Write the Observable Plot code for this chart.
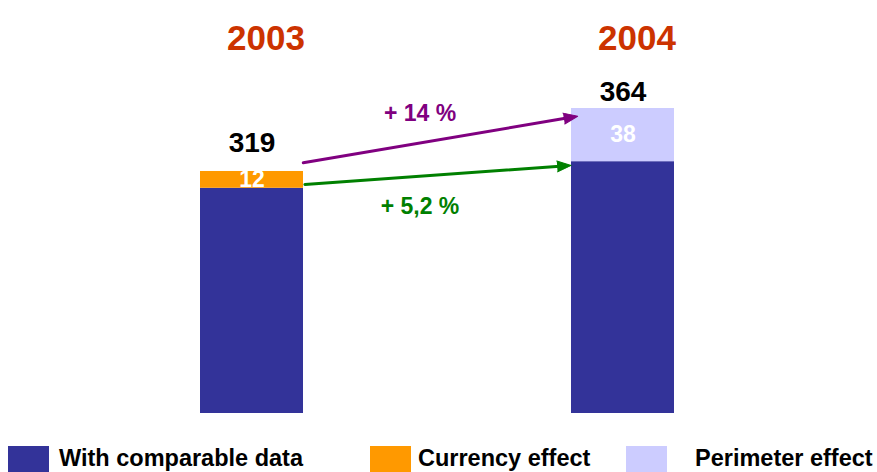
<!DOCTYPE html>
<html>
<head>
<meta charset="utf-8">
<script src="https://cdn.jsdelivr.net/npm/d3@7"></script>
<script src="https://cdn.jsdelivr.net/npm/@observablehq/plot@0.6"></script>
<style>
  body { margin: 0; background: #fff; font-family: "Liberation Sans", Arial, sans-serif; }
  #chart svg { display: block; }
  #legend { position: relative; width: 877px; height: 32px; font-weight: bold; font-size: 23.5px; color: #000; }
  #legend .sw { position: absolute; top: 6px; width: 41px; height: 26px; }
  #legend .lb { position: absolute; top: 4px; line-height: 28px; white-space: nowrap; }
</style>
</head>
<body>
<div id="chart"></div>
<div id="legend"></div>
<script>
// ---- data ----
const years = ["2003", "2004"];
const series = ["With comparable data", "Currency effect", "Perimeter effect"];
const colors = ["#333399", "#FF9900", "#CCCCFF"];
const comparable = [307, 326];
const currencyEffect = [12, 0];
const perimeterEffect = [0, 38];
const totals = [319, 364];
const growthLabels = ["+ 14 %", "+ 5,2 %"];
const growthColors = ["#800080", "#008000"];

// stacked rows
const rows = [];
years.forEach((yr, i) => {
  const vals = [comparable[i], currencyEffect[i], perimeterEffect[i]];
  let base = 0;
  vals.forEach((v, j) => {
    if (v > 0) rows.push({year: yr, series: series[j], value: v, y1: base, y2: base + v});
    base += v;
  });
});
const segLabels = rows.filter(r => r.series !== series[0]);
const totalRows = years.map((yr, i) => ({year: yr, total: totals[i], dy: i === 0 ? -19 : -8}));
const arrows = [
  {label: growthLabels[0], color: growthColors[0], v1: totals[0], v2: totals[1], insetStart: 52, insetEnd: 46, dy: -26},
  {label: growthLabels[1], color: growthColors[1], v1: comparable[0], v2: comparable[1], insetStart: 53, insetEnd: 52, dy: 32}
];

const xOpts = {domain: years, range: [200, 674], paddingInner: 0.7224, paddingOuter: 0, axis: null};
const yOpts = {domain: [146.1, 364], range: [413, 108], clamp: true, axis: null};

function build(extra) {
  return Plot.plot({
    width: 877,
    height: 440,
    marginTop: 0, marginBottom: 0, marginLeft: 0, marginRight: 0,
    style: {fontFamily: "Liberation Sans, Arial, sans-serif", background: "white"},
    x: xOpts,
    y: yOpts,
    color: {domain: series, range: colors},
    marks: [
      Plot.barY(rows, {x: "year", y1: "y1", y2: "y2", fill: "series"}),
      Plot.text(segLabels, {x: "year", y: d => (d.y1 + d.y2) / 2, text: d => String(d.value),
        fill: "white", fontSize: 23, fontWeight: "bold"}),
      ...totalRows.map(t => Plot.text([t], {x: "year", y: "total", text: d => String(d.total),
        lineAnchor: "bottom", dy: t.dy, fill: "black", fontSize: 28, fontWeight: "bold"})),
      Plot.text(years, {x: d => d, text: d => d, frameAnchor: "top", dy: 25, dx: 14,
        fill: "#CC3300", fontSize: 35, fontWeight: "bold"}),
      ...arrows.map(a => Plot.arrow([a], {x1: () => years[0], x2: () => years[1], y1: "v1", y2: "v2",
        stroke: a.color, strokeWidth: 3, headLength: 0,
        insetStart: a.insetStart, insetEnd: a.insetEnd + 8})),
      ...arrows.map(a => Plot.text([a], {x: () => years[0], y: d => (d.v1 + d.v2) / 2, text: "label",
        dx: 168, dy: a.dy, fill: a.color, fontSize: 23, fontWeight: "bold"})),
      ...extra
    ]
  });
}

// first pass to read the scales, then add filled arrow heads in pixel-correct direction
const first = build([]);
const xs = first.scale("x"), ys = first.scale("y");
const xApply = xs.apply ? xs.apply : d3.scaleBand().domain(years).range(xOpts.range).paddingInner(xOpts.paddingInner).paddingOuter(0);
const yApply = ys.apply ? ys.apply : d3.scaleLinear().domain(yOpts.domain).range(yOpts.range);
const bw = xs.bandwidth != null ? xs.bandwidth : 103;
const heads = arrows.map(a => {
  const x1 = xApply(years[0]) + bw / 2, x2 = xApply(years[1]) + bw / 2;
  const y1 = yApply(a.v1), y2 = yApply(a.v2);
  const L = Math.hypot(x2 - x1, y2 - y1);
  const ux = (x2 - x1) / L, uy = (y2 - y1) / L;
  const rot = 90 + Math.atan2(uy, ux) * 180 / Math.PI;
  return Plot.vector([a], {x: () => years[1], y: "v2", dx: -a.insetEnd * ux, dy: -a.insetEnd * uy,
    rotate: rot, length: 14, r: 5.5, shape: "spike", anchor: "end",
    fill: a.color, fillOpacity: 1, stroke: a.color, strokeWidth: 1});
});
const plot = build(heads);
document.getElementById("chart").appendChild(plot);

// legend
const legendX = [[8, 59], [370, 418], [626, 695]];
const legend = document.getElementById("legend");
series.forEach((s, i) => {
  const sw = document.createElement("div");
  sw.className = "sw";
  sw.style.left = legendX[i][0] + "px";
  sw.style.background = colors[i];
  legend.appendChild(sw);
  const lb = document.createElement("div");
  lb.className = "lb";
  lb.style.left = legendX[i][1] + "px";
  lb.textContent = s;
  legend.appendChild(lb);
});
</script>
</body>
</html>
